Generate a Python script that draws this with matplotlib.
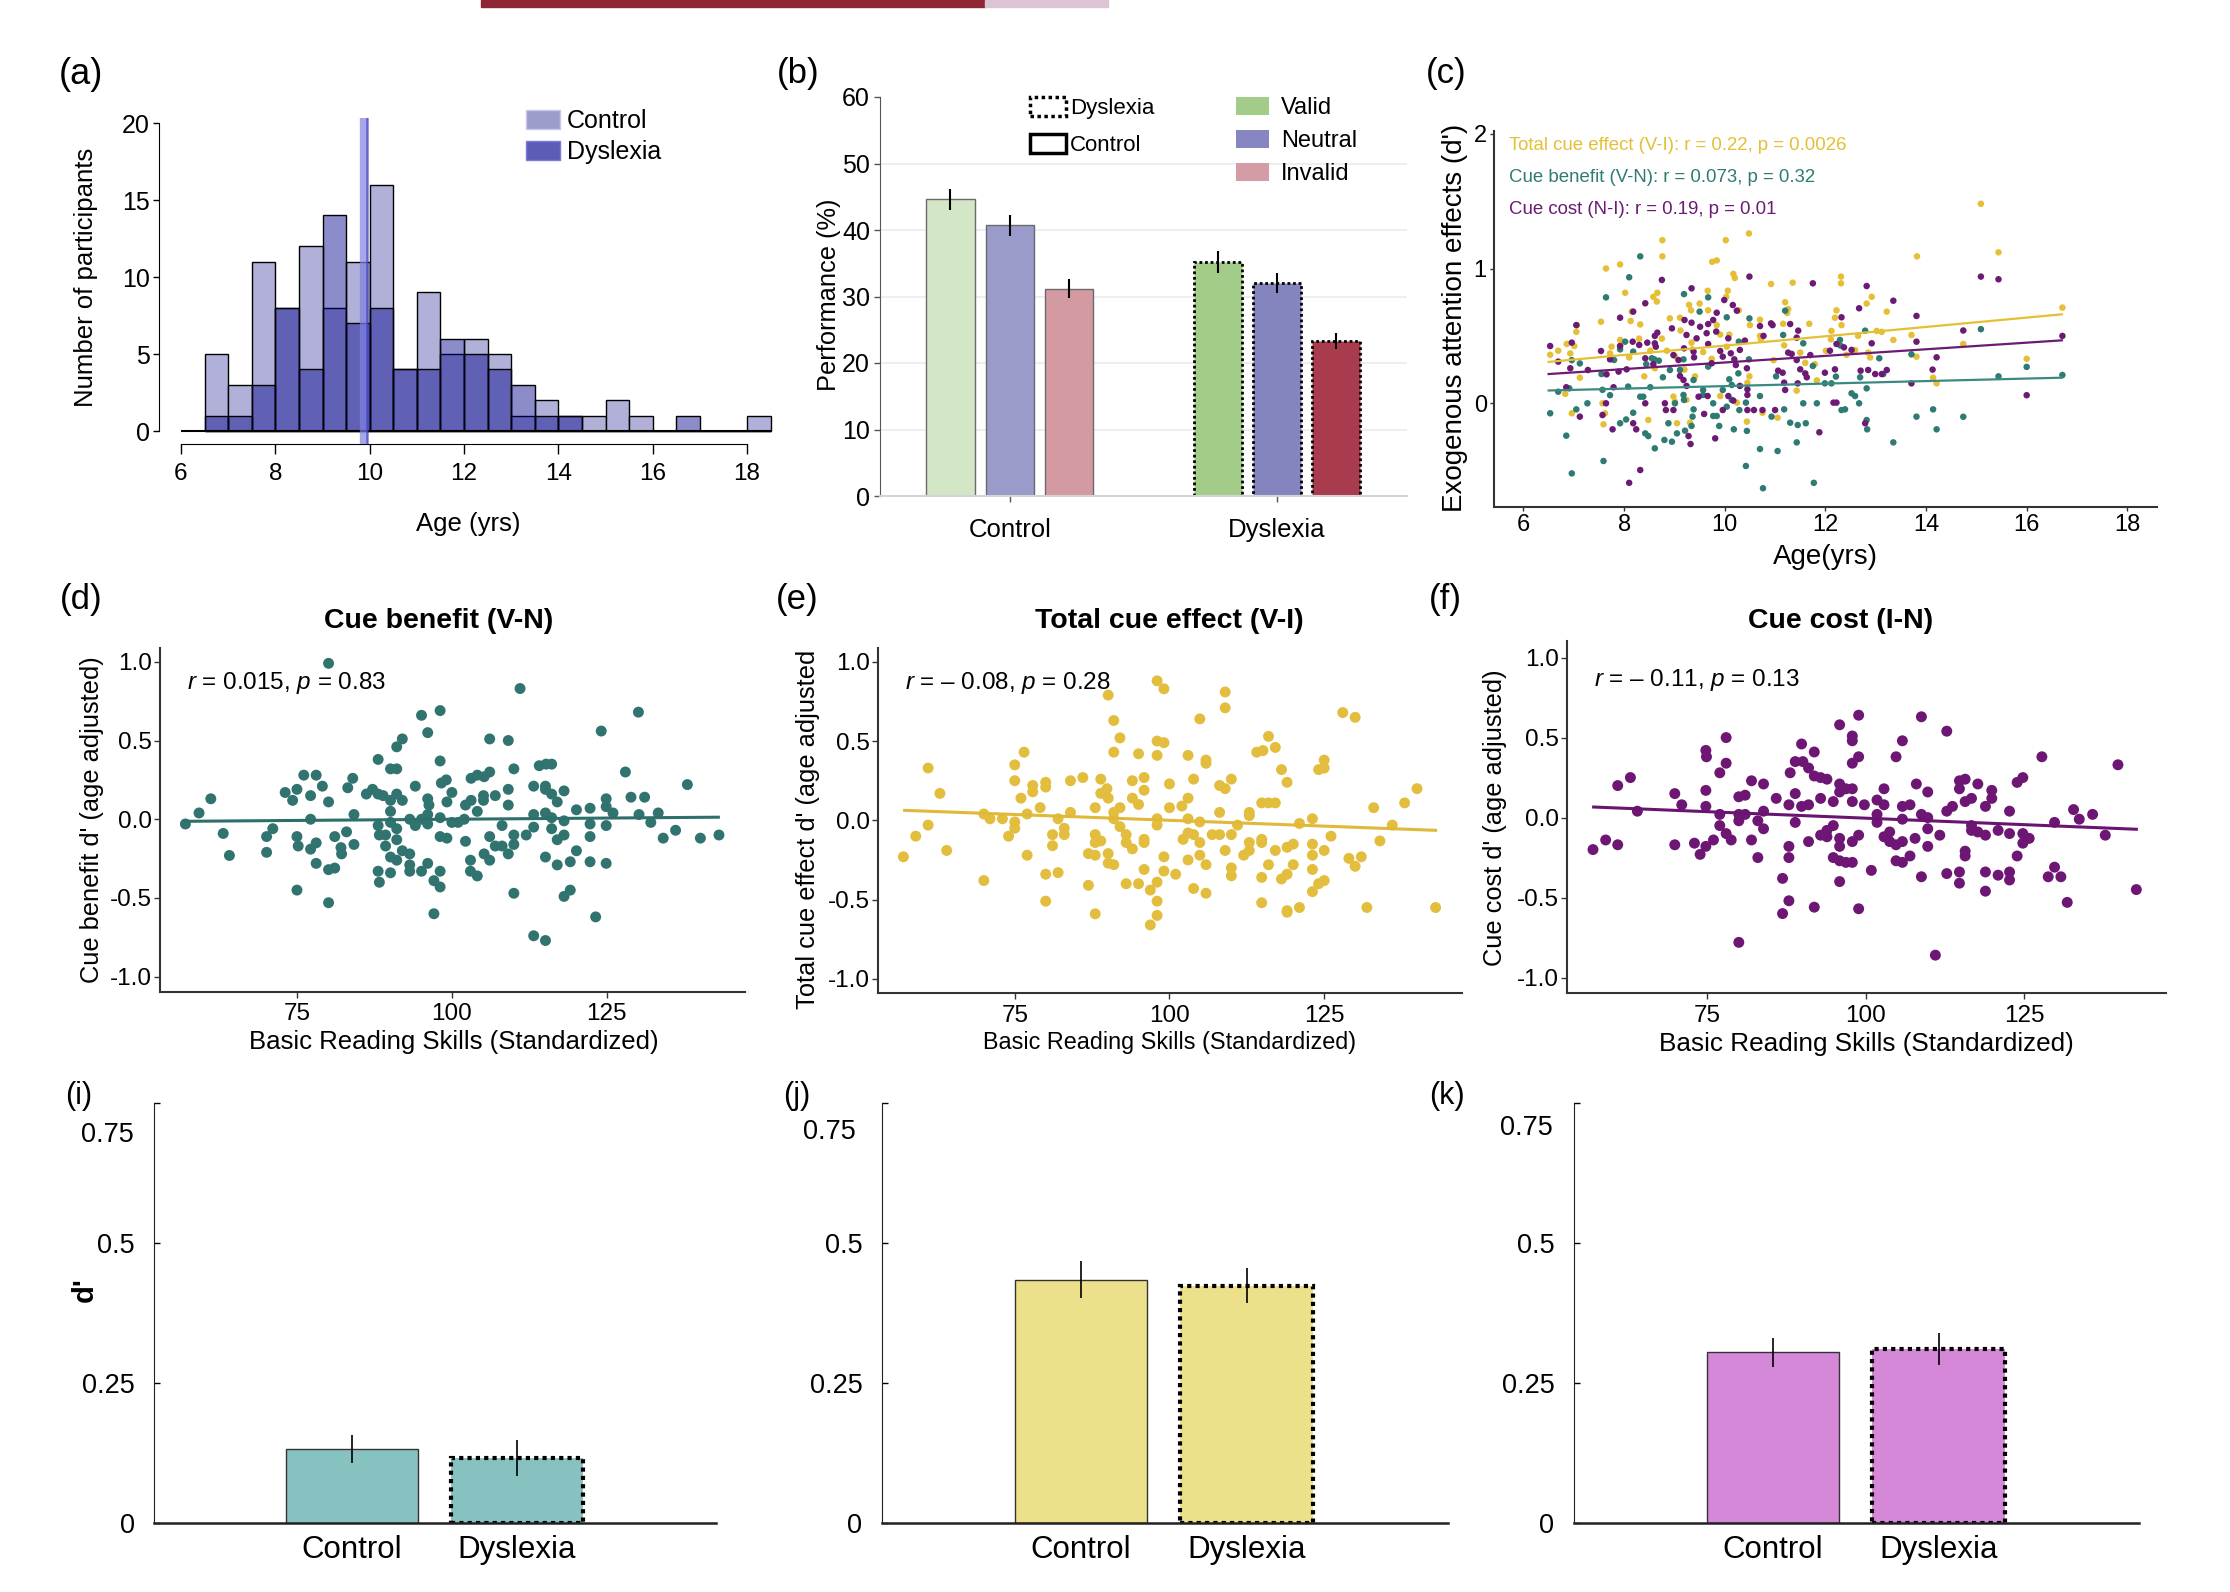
import numpy as np
import matplotlib
matplotlib.use('Agg')
import matplotlib.pyplot as plt
from matplotlib.patches import Patch, Rectangle

# ---------------- DATA ----------------
# (a) age histogram
age_bin_left = [6.5, 7.0, 7.5, 8.0, 8.5, 9.0, 9.5, 10.0, 10.5, 11.0, 11.5, 12.0,
                12.5, 13.0, 13.5, 14.0, 14.5, 15.0, 15.5, 16.0, 16.5, 17.0, 17.5, 18.0]
hist_control = [5, 3, 11, 8, 12, 8, 11, 16, 4, 9, 5, 6, 5, 1, 2, 1, 1, 2, 1, 0, 0, 0, 0, 1]
hist_dyslexia = [1, 1, 3, 8, 4, 14, 7, 8, 4, 4, 6, 5, 4, 3, 1, 1, 0, 0, 0, 0, 1, 0, 0, 0]
mean_age = [9.88, 9.95]
age_ticks = [6, 8, 10, 12, 14, 16, 18]
count_ticks = [0, 5, 10, 15, 20]

# (b) performance
groups = ['Control', 'Dyslexia']
conditions = ['Valid', 'Neutral', 'Invalid']
perf_control = [44.6, 40.7, 31.2]
perf_control_err = [1.6, 1.6, 1.4]
perf_dyslexia = [35.2, 32.0, 23.3]
perf_dyslexia_err = [1.7, 1.5, 1.2]
perf_ticks = [0, 10, 20, 30, 40, 50, 60]

# (c) attention effects vs age
c_total_pts = [(7.64,1.0),(10.17,0.96),(10.2,0.93),(12.31,0.94),(12.31,0.89),(10.92,0.885),(11.35,0.895),
    (8.02,0.82),(8.66,0.82),(8.58,0.79),(8.65,0.755),(9.66,0.835),(10.06,0.835),(10.03,0.79),(12.92,0.79),
    (12.82,0.74),(9.29,0.73),(9.5,0.74),(9.67,0.69),(9.33,0.69),(10.28,0.69),(11.2,0.75),(11.26,0.70),
    (11.24,0.67),(12.22,0.69),(13.22,0.68),(12.19,0.635),(12.32,0.58),(8.91,0.63),(9.11,0.635),(7.54,0.605),
    (8.15,0.68),(8.13,0.61),(8.32,0.585),(7.05,0.53),(7.06,0.58),(10.5,0.58),(10.7,0.62),(11.16,0.59),
    (11.68,0.59),(13.02,0.537),(13.12,0.53),(12.12,0.537),(12.65,0.5),(13.71,0.507),(13.35,0.47),(6.86,0.44),
    (7.01,0.425),(6.93,0.37),(6.53,0.36),(6.69,0.39),(7.12,0.19),(6.83,0.07),(6.96,-0.074),(7.57,0.0),
    (7.62,-0.074),(7.59,-0.156),(7.75,0.42),(7.72,0.37),(7.92,0.47),(7.92,0.425),(8.1,0.34),(8.3,0.48),
    (8.52,0.39),(8.61,0.26),(8.4,0.2),(8.75,0.48),(8.85,0.39),(9.01,0.35),(9.12,0.54),(9.34,0.45),(9.36,0.40),
    (9.2,0.25),(9.41,0.20),(9.57,0.38),(9.74,0.33),(9.84,0.58),(9.91,0.51),(10.09,0.51),(10.04,0.42),
    (9.91,0.054),(10.45,0.153),(10.49,0.2),(10.44,-0.136),(10.24,0.005),(10.75,-0.07),(10.7,0.5),(10.72,0.475),
    (10.97,0.32),(11.05,-0.107),(11.18,0.43),(11.43,0.094),(11.6,0.30),(11.83,0.17),(11.5,0.376),(11.79,0.29),
    (12.01,0.39),(12.11,0.475),(12.42,0.36),(12.59,0.395),(12.85,0.376),(12.89,0.34),(14.14,0.19),(14.21,0.148),
    (13.81,0.346),(8.48,-0.124),(8.98,0.05),(9.01,0.012),(9.24,0.025),(9.31,-0.144),(9.05,-0.148),
    (15.09,1.48),(10.48,1.26),(10.02,1.21),(8.76,1.21),(8.76,1.09),(7.92,1.03),(9.75,1.05),(9.84,1.06),
    (13.82,1.09),(15.44,1.12),(16.71,0.71),(14.74,0.44),(16.0,0.33)]
c_benefit_pts = [(8.32,1.09),(8.1,0.935),(7.64,0.786),(9.19,0.81),(9.67,0.786),(9.5,0.68),(10.04,0.638),
    (10.49,0.63),(11.2,0.687),(6.53,-0.074),(6.85,-0.24),(7.59,-0.428),(7.05,-0.045),(7.27,0.0),(6.69,0.086),
    (6.91,0.111),(7.12,0.296),(6.96,0.32),(7.72,0.06),(7.57,0.1),(7.55,0.217),(7.8,0.321),(7.92,0.40),
    (8.02,0.457),(8.18,0.383),(8.32,0.049),(8.38,0.049),(8.18,-0.07),(8.04,-0.12),(7.92,-0.148),(8.42,-0.223),
    (8.48,-0.243),(8.61,-0.334),(8.8,-0.272),(8.95,-0.285),(8.88,-0.148),(9.05,-0.223),(9.21,-0.203),
    (9.34,-0.168),(9.18,0.062),(9.19,0.025),(9.01,0.0),(8.6,0.326),(8.69,0.316),(8.55,0.334),(8.44,0.29),
    (8.77,0.193),(8.91,0.247),(9.11,0.247),(9.18,0.326),(9.38,0.173),(9.38,-0.045),(9.36,-0.099),(9.57,0.099),
    (9.57,0.062),(9.67,0.272),(9.77,0.0),(9.77,-0.094),(9.84,-0.094),(9.89,-0.168),(9.96,0.099),(10.09,0.178),
    (10.14,0.136),(10.04,-0.025),(10.14,0.025),(10.18,-0.193),(10.27,0.222),(10.28,0.457),(10.29,-0.05),
    (10.42,0.005),(10.48,0.326),(10.44,-0.205),(10.7,0.054),(10.7,-0.339),(10.42,-0.465),(10.93,-0.099),
    (11.05,-0.354),(11.16,0.507),(11.18,-0.045),(11.02,0.2),(11.3,-0.144),(11.45,-0.161),(11.43,-0.29),
    (11.61,-0.148),(11.56,0.0),(11.75,0.277),(11.83,0.0),(11.99,0.148),(12.12,0.148),(12.21,0.198),
    (12.32,-0.05),(12.39,-0.045),(12.52,0.074),(12.59,0.054),(12.67,0.0),(12.69,0.193),(12.82,-0.124),
    (12.83,-0.193),(12.82,0.111),(13.07,0.334),(13.15,0.217),(13.35,-0.29),(13.81,-0.099),(13.71,0.363),
    (14.14,-0.045),(14.21,-0.193),(12.29,0.47),(12.79,0.539),(12.3,0.428),(11.56,0.445),(8.08,0.124),
    (8.52,0.119),(15.09,0.55),(16.0,0.27),(15.44,0.20),(16.71,0.21),(6.96,-0.52),(10.76,-0.63),(11.77,-0.59),
    (14.74,-0.10)]
c_cost_pts = [(8.75,0.915),(9.34,0.853),(10.49,0.94),(11.75,0.89),(12.82,0.87),(13.35,0.761),(8.42,0.742),
    (8.18,0.68),(7.92,0.635),(7.05,0.58),(9.99,0.766),(10.16,0.729),(10.24,0.687),(9.84,0.672),(9.77,0.618),
    (9.67,0.588),(12.67,0.705),(13.81,0.648),(12.32,0.638),(9.2,0.618),(9.34,0.598),(8.95,0.556),(8.66,0.524),
    (8.61,0.5),(9.51,0.568),(9.64,0.52),(9.83,0.532),(10.7,0.573),(10.92,0.593),(11.3,0.588),(11.46,0.539),
    (11.43,0.487),(6.53,0.425),(6.96,0.45),(6.69,0.309),(6.93,0.26),(7.28,0.247),(7.54,0.388),(7.72,0.326),
    (7.92,0.425),(8.17,0.457),(8.3,0.433),(8.46,0.45),(8.61,0.445),(8.63,0.42),(7.65,0.215),(7.89,0.235),
    (8.05,0.252),(8.42,0.334),(8.58,0.29),(8.98,0.358),(9.08,0.321),(9.19,0.408),(9.38,0.383),(9.39,0.341),
    (9.24,0.507),(9.44,0.482),(9.67,0.44),(9.91,0.388),(9.74,0.297),(9.96,0.346),(10.07,0.482),(10.12,0.371),
    (10.19,0.326),(10.22,0.284),(10.3,0.396),(10.44,0.26),(10.4,0.465),(10.77,0.5),(11.06,0.242),(11.26,0.376),
    (11.33,0.366),(11.43,0.321),(11.5,0.252),(11.6,0.222),(11.63,0.193),(11.7,0.358),(11.99,0.227),(12.09,0.39),
    (12.19,0.252),(12.22,0.44),(12.37,0.415),(12.52,0.396),(12.7,0.242),(12.85,0.247),(12.92,0.445),
    (12.99,0.217),(13.12,0.217),(13.22,0.247),(13.81,0.457),(14.21,0.341),(13.71,0.148),(7.79,0.119),
    (6.85,0.119),(7.57,-0.087),(7.12,-0.099),(7.77,-0.193),(7.64,0.0),(8.18,-0.148),(8.24,-0.193),(8.42,0.0),
    (8.81,0.0),(8.83,-0.05),(8.98,-0.05),(9.28,-0.243),(9.32,-0.302),(9.11,0.203),(9.18,0.173),(9.24,0.129),
    (9.48,0.049),(9.59,-0.079),(9.66,0.054),(9.81,-0.26),(9.96,-0.05),(10.07,0.054),(10.17,0.02),(10.3,0.129),
    (10.45,0.104),(10.45,0.062),(10.45,-0.05),(10.58,-0.05),(10.75,-0.05),(11.0,-0.05),(11.18,0.153),
    (11.2,0.099),(11.15,0.227),(11.45,0.148),(11.88,-0.215),(12.16,0.005),(12.22,0.005),(12.79,-0.148),
    (8.32,-0.495),(10.95,0.58),(14.13,0.25),(15.09,0.94),(15.44,0.92),(14.74,0.54),(16.71,0.50),(16.0,0.06),
    (8.1,-0.59)]
c_fit_age = [6.5, 16.7]
c_fit_total = [0.307, 0.66]
c_fit_benefit = [0.095, 0.19]
c_fit_cost = [0.217, 0.467]
c_labels = ['Total cue effect (V-I): r = 0.22, p = 0.0026',
            'Cue benefit (V-N): r = 0.073, p = 0.32',
            'Cue cost (N-I): r = 0.19, p = 0.01']

# (d) cue benefit vs reading
d_pts = [(80.1,0.99),(111.0,0.83),(98.1,0.69),(95.1,0.66),(130.1,0.68),(96.1,0.55),(124.1,0.56),(91.1,0.46),
    (92.0,0.51),(106.1,0.51),(109.1,0.50),(88.1,0.38),(98.1,0.37),(90.1,0.32),(91.1,0.32),(110.0,0.32),
    (114.1,0.34),(115.2,0.35),(116.1,0.35),(128.0,0.30),(76.1,0.28),(78.1,0.28),(84.0,0.26),(73.1,0.17),
    (74.3,0.12),(75.0,0.19),(77.2,0.15),(79.1,0.21),(80.1,0.11),(83.2,0.20),(86.2,0.16),(87.2,0.19),(88.1,0.16),
    (88.9,0.15),(90.1,0.12),(91.1,0.16),(92.0,0.12),(94.1,0.21),(96.1,0.13),(96.3,0.09),(98.3,0.23),(99.1,0.25),
    (100.0,0.17),(99.2,0.11),(102.2,0.09),(103.1,0.12),(103.1,0.26),(104.1,0.28),(105.2,0.27),(106.1,0.30),
    (105.1,0.15),(105.1,0.12),(107.0,0.15),(109.1,0.19),(109.1,0.09),(113.2,0.21),(115.1,0.21),(115.1,0.19),
    (116.1,0.16),(117.0,0.11),(118.1,0.18),(120.1,0.06),(122.3,0.07),(124.9,0.13),(124.9,0.08),(128.9,0.14),
    (131.1,0.14),(138.0,0.22),(61.1,0.13),(59.2,0.04),(57.0,-0.03),(63.1,-0.09),(64.1,-0.23),(70.1,-0.11),
    (71.1,-0.06),(70.1,-0.21),(75.0,-0.11),(75.2,-0.17),(77.2,0.0),(77.2,-0.19),(78.1,-0.15),(78.1,-0.28),
    (75.0,-0.45),(80.1,-0.53),(80.1,-0.32),(81.1,-0.31),(81.1,-0.11),(82.1,-0.18),(82.2,-0.22),(83.0,-0.08),
    (84.2,-0.16),(84.2,0.03),(88.1,-0.04),(88.3,-0.10),(88.1,-0.33),(88.3,-0.40),(89.3,-0.10),(89.3,-0.17),
    (90.1,0.05),(90.1,-0.02),(90.1,-0.24),(91.1,-0.26),(91.1,-0.06),(91.1,-0.13),(90.1,-0.34),(92.0,-0.20),
    (93.2,-0.22),(93.2,-0.29),(93.2,-0.33),(93.2,0.0),(94.1,-0.04),(95.1,-0.33),(95.1,0.0),(96.1,-0.03),
    (96.1,0.03),(96.1,-0.28),(97.1,-0.39),(97.1,-0.60),(98.1,-0.33),(98.1,-0.43),(98.1,0.01),(98.1,-0.11),
    (99.2,-0.12),(100.0,-0.02),(101.0,-0.02),(102.0,0.0),(102.2,-0.14),(103.0,-0.26),(103.0,-0.33),
    (104.1,-0.36),(104.1,0.05),(105.2,-0.22),(106.1,-0.26),(106.1,-0.11),(107.0,-0.17),(108.1,-0.17),
    (108.1,-0.04),(109.1,-0.22),(110.0,-0.10),(110.0,-0.16),(110.0,-0.47),(112.0,-0.10),(113.2,0.03),
    (113.2,-0.05),(113.2,-0.74),(115.1,-0.77),(115.1,-0.24),(115.1,0.04),(116.1,0.01),(116.1,-0.06),
    (117.0,-0.13),(118.1,-0.01),(118.1,-0.10),(117.0,-0.29),(118.1,-0.49),(119.1,-0.45),(119.1,-0.27),
    (120.1,-0.20),(122.3,-0.03),(122.3,-0.11),(122.3,-0.27),(123.2,-0.62),(124.9,-0.28),(124.9,-0.04),
    (126.0,0.04),(130.2,0.03),(132.1,-0.02),(133.3,0.04),(134.1,-0.12),(136.1,-0.07),(140.1,-0.12),(143.1,-0.10)]
d_fit_x = [57.0, 143.0]
d_fit_y = [-0.013, 0.013]

# (e) total cue effect vs reading
e_pts = [(98.0,0.88),(99.1,0.83),(90.1,0.79),(109.0,0.81),(109.0,0.71),(91.0,0.63),(104.9,0.64),(128.0,0.68),
    (130.0,0.65),(92.0,0.52),(98.0,0.50),(99.1,0.49),(98.0,0.41),(91.0,0.43),(95.0,0.42),(103.0,0.41),
    (105.9,0.38),(105.9,0.36),(116.0,0.53),(114.1,0.43),(115.1,0.44),(117.1,0.46),(118.1,0.32),(124.1,0.32),
    (125.0,0.38),(125.0,0.33),(119.0,0.24),(110.0,0.26),(76.5,0.43),(75.0,0.35),(75.0,0.25),(61.0,0.33),
    (62.9,0.17),(61.0,-0.03),(59.0,-0.10),(57.0,-0.23),(64.0,-0.19),(70.0,0.04),(71.0,0.01),(73.0,0.01),
    (70.0,-0.38),(76.0,0.14),(77.0,0.04),(77.9,0.22),(77.9,0.18),(79.1,0.08),(80.0,0.24),(80.0,0.21),
    (75.0,-0.01),(75.0,-0.05),(74.0,-0.10),(77.0,-0.22),(81.1,-0.09),(81.1,-0.16),(82.0,0.01),(80.0,-0.34),
    (82.0,-0.33),(80.0,-0.51),(83.0,-0.05),(83.0,-0.09),(84.0,0.25),(84.0,0.05),(86.0,0.27),(86.9,-0.21),
    (86.9,-0.41),(88.0,0.08),(88.0,-0.09),(88.0,-0.14),(88.0,-0.22),(88.9,-0.13),(88.0,-0.59),(88.9,0.26),
    (88.9,0.17),(89.9,0.20),(90.1,0.14),(90.1,-0.21),(90.1,-0.27),(91.0,-0.28),(91.0,0.05),(91.0,0.01),
    (92.0,0.08),(92.0,-0.04),(93.0,-0.09),(93.0,-0.14),(94.0,-0.18),(94.0,0.25),(94.0,0.14),(95.0,0.10),
    (93.0,-0.40),(95.0,-0.40),(95.9,0.27),(95.9,0.19),(95.9,-0.12),(95.9,-0.14),(95.9,-0.31),(96.9,-0.44),
    (96.9,-0.66),(98.0,-0.39),(98.0,-0.51),(98.0,-0.60),(98.0,0.01),(98.0,-0.03),(99.1,-0.23),(99.1,-0.32),
    (100.0,0.23),(100.0,0.08),(101.0,-0.34),(102.0,0.09),(102.2,-0.12),(103.0,0.14),(103.0,0.01),(103.0,-0.08),
    (103.9,-0.09),(103.0,-0.25),(103.9,0.26),(104.9,-0.01),(104.9,-0.14),(104.9,-0.22),(103.9,-0.43),
    (105.9,-0.28),(105.9,-0.46),(106.9,-0.09),(108.1,-0.09),(108.1,0.05),(108.1,0.22),(109.0,0.20),
    (109.0,-0.19),(110.0,-0.09),(110.0,-0.30),(110.0,-0.35),(111.0,-0.03),(112.0,-0.22),(112.9,-0.19),
    (112.9,0.05),(112.9,0.03),(112.9,-0.14),(114.9,0.11),(116.0,0.11),(117.1,0.11),(114.9,-0.12),(114.9,-0.14),
    (114.9,-0.36),(114.9,-0.52),(116.0,-0.28),(117.1,-0.19),(118.1,-0.37),(119.0,-0.34),(119.0,-0.17),
    (120.0,-0.15),(120.0,-0.28),(119.0,-0.57),(119.0,-0.58),(121.0,-0.55),(121.0,-0.02),(123.1,0.01),
    (123.1,-0.15),(123.1,-0.22),(123.1,-0.31),(123.1,-0.45),(124.1,-0.40),(125.0,-0.38),(125.0,-0.19),
    (126.1,-0.10),(129.0,-0.24),(130.0,-0.29),(131.0,-0.23),(131.9,-0.55),(133.0,0.08),(134.0,-0.13),
    (136.0,-0.03),(138.0,0.11),(140.0,0.20),(143.0,-0.55)]
e_fit_x = [57.2, 143.0]
e_fit_y = [0.063, -0.063]

# (f) cue cost vs reading
f_pts = [(98.9,0.64),(108.8,0.63),(95.9,0.58),(112.8,0.54),(97.9,0.51),(97.9,0.48),(105.8,0.48),(78.0,0.50),
    (74.8,0.42),(74.9,0.38),(89.9,0.46),(91.9,0.41),(127.8,0.38),(139.8,0.33),(78.0,0.34),(77.0,0.28),
    (88.9,0.35),(90.1,0.35),(88.1,0.28),(91.0,0.31),(91.9,0.26),(92.9,0.25),(93.9,0.24),(104.8,0.38),
    (98.9,0.38),(97.9,0.34),(62.9,0.25),(60.9,0.20),(82.0,0.23),(83.9,0.21),(74.8,0.17),(69.9,0.15),
    (71.0,0.08),(64.0,0.04),(80.0,0.13),(81.0,0.14),(85.9,0.12),(87.9,0.08),(88.9,0.15),(89.9,0.07),
    (91.0,0.08),(92.9,0.12),(94.9,0.10),(95.9,0.21),(95.9,0.16),(96.9,0.18),(97.9,0.18),(97.9,0.10),
    (99.8,0.08),(101.8,0.11),(102.9,0.18),(102.9,0.08),(105.8,0.07),(107.0,0.08),(108.0,0.21),(109.8,0.16),
    (108.8,0.02),(109.8,0.0),(112.8,0.04),(113.7,0.07),(114.8,0.23),(115.7,0.24),(114.8,0.18),(115.7,0.10),
    (116.7,0.12),(117.7,0.21),(119.9,0.17),(119.9,0.12),(118.9,0.07),(122.7,0.04),(123.9,0.22),(124.8,0.25),
    (132.8,0.05),(133.7,-0.01),(135.8,0.02),(129.8,-0.03),(77.0,0.02),(74.8,0.07),(77.0,-0.05),(78.0,-0.10),
    (78.8,-0.14),(80.0,0.02),(80.0,-0.02),(81.0,0.02),(83.0,-0.02),(83.9,-0.07),(83.9,0.04),(82.0,-0.14),
    (83.0,-0.25),(76.0,-0.14),(74.8,-0.18),(73.9,-0.23),(73.0,-0.16),(69.9,-0.17),(57.0,-0.20),(59.0,-0.14),
    (60.9,-0.17),(88.9,-0.03),(87.9,-0.18),(87.9,-0.25),(86.9,-0.38),(87.9,-0.52),(86.9,-0.60),(80.0,-0.78),
    (91.0,-0.15),(91.9,-0.56),(92.9,-0.11),(93.9,-0.12),(93.9,-0.08),(94.9,-0.05),(94.9,-0.25),(95.9,-0.27),
    (95.9,-0.13),(95.9,-0.18),(96.9,-0.28),(97.9,-0.28),(97.9,-0.15),(98.9,-0.11),(95.9,-0.40),(98.9,-0.57),
    (100.9,-0.33),(101.8,-0.03),(101.8,0.02),(102.9,-0.12),(103.8,-0.09),(103.8,-0.15),(104.8,-0.17),
    (104.8,-0.27),(105.8,-0.01),(105.8,-0.15),(105.8,-0.28),(107.0,-0.24),(107.8,-0.13),(108.8,-0.37),
    (109.8,-0.07),(109.8,-0.18),(111.7,-0.11),(111.0,-0.86),(112.8,-0.35),(114.8,-0.34),(114.8,-0.41),
    (115.7,-0.21),(115.7,-0.24),(116.7,-0.05),(116.7,-0.08),(117.7,-0.09),(118.9,-0.11),(118.9,-0.34),
    (118.9,-0.46),(120.9,-0.08),(120.9,-0.36),(122.7,-0.10),(122.7,-0.34),(122.7,-0.39),(123.9,-0.24),
    (124.8,-0.10),(124.8,-0.16),(125.8,-0.13),(128.8,-0.37),(129.8,-0.31),(130.8,-0.37),(131.8,-0.53),
    (137.8,-0.11),(142.7,-0.45)]
f_fit_x = [57.1, 142.7]
f_fit_y = [0.066, -0.073]
reading_ticks = [75, 100, 125]
dprime_ticks = [-1.0, -0.5, 0.0, 0.5, 1.0]
dprime_ticklabels = ['-1.0', '-0.5', '0.0', '0.5', '1.0']

# (i)(j)(k) group means
dp_control = [0.131, 0.4345, 0.305]
dp_control_err = [0.025, 0.033, 0.026]
dp_dyslexia = [0.116, 0.424, 0.311]
dp_dyslexia_err = [0.032, 0.032, 0.029]
bar_ticks = [0, 0.25, 0.5, 0.75]

# ---------------- FIGURE ----------------
W, H = 2230, 1592
plt.rcParams['font.family'] = ['Liberation Sans', 'DejaVu Sans']
plt.rcParams['mathtext.fontset'] = 'custom'
plt.rcParams['mathtext.rm'] = 'Liberation Sans'
plt.rcParams['mathtext.it'] = 'Liberation Sans:italic'

fig = plt.figure(figsize=(W / 100, H / 100), dpi=100)


def axpx(x0, y0, x1, y1):
    return fig.add_axes([x0 / W, 1 - y1 / H, (x1 - x0) / W, (y1 - y0) / H])


def tpx(x, y, s, **kw):
    return fig.text(x / W, 1 - y / H, s, **kw)


DOT = (0, (1, 1))

# header decoration (journal banner strip)
fig.patches.append(Rectangle((481 / W, 1 - 7 / H), (985 - 481) / W, 7 / H,
                             transform=fig.transFigure, color='#8e2533', zorder=0))
fig.patches.append(Rectangle((985 / W, 1 - 7 / H), (1108 - 985) / W, 7 / H,
                             transform=fig.transFigure, color='#dcc4d4', zorder=0))

# ---- (a) ----
ax = axpx(159, 118.4, 773, 443.5)
ax.bar(age_bin_left, hist_control, width=0.5, align='edge', color='#b0b0d8',
       edgecolor='black', lw=1, zorder=2)
ax.bar(age_bin_left, hist_dyslexia, width=0.5, align='edge', color=(0, 0, 0.55, 0.45),
       edgecolor='black', lw=1, zorder=3)
ax.hlines(0, age_ticks[0], age_bin_left[-1] + 0.5, color='black', lw=1.5, zorder=4)
ax.axvline(mean_age[0], color='#8080e0', alpha=0.7, lw=6, zorder=5)
ax.axvline(mean_age[1], color='#2a2ab8', alpha=0.55, lw=1.8, zorder=6)
ax.set_xlim(5.534, 18.55)
ax.set_ylim(-0.81, 20.3)
for s in ['top', 'right']:
    ax.spines[s].set_visible(False)
ax.spines['left'].set_bounds(0, 20)
ax.spines['bottom'].set_bounds(6, 18)
ax.set_xticks(age_ticks)
ax.set_yticks(count_ticks)
ax.tick_params(axis='x', direction='out', length=7, width=1, labelsize=17.5, pad=7)
ax.tick_params(axis='y', direction='out', length=4.5, width=1, labelsize=18, pad=2)
tpx(80.5, 75, '(a)', fontsize=26, ha='center', va='center')
tpx(86, 277, 'Number of participants', fontsize=18.5, rotation=90, ha='center', va='center')
tpx(468, 524, 'Age (yrs)', fontsize=18.5, ha='center', va='center')
fig.legend(handles=[Patch(facecolor='#9d9dcd', edgecolor='#c8c8ee', lw=1, label='Control'),
                    Patch(facecolor='#5c5cb8', edgecolor='#7a7ad8', lw=1, label='Dyslexia')],
           loc='upper left', bbox_to_anchor=(526 / W, 1 - 109 / H), frameon=False,
           fontsize=18, handlelength=1.35, handleheight=0.8, handletextpad=0.3,
           labelspacing=0.3, borderpad=0, borderaxespad=0)

# ---- (b) ----
ax = axpx(879.6, 97, 1407, 496)
ctrl_cols = ['#d3e6c5', '#9b9bcb', '#d49aa2']
dys_cols = ['#a2cc87', '#8484be', '#a83b4d']
offs = [-0.2225, 0.0, 0.2225]
for k in range(3):
    ax.bar(0 + offs[k], perf_control[k], width=0.18, color=ctrl_cols[k], edgecolor='#6a6a6a',
           lw=1, zorder=2)
    ax.errorbar(0 + offs[k], perf_control[k], yerr=perf_control_err[k], fmt='none',
                ecolor='black', elinewidth=1.5, capsize=0, zorder=3)
    ax.bar(1 + offs[k], perf_dyslexia[k], width=0.18, color=dys_cols[k], edgecolor='black',
           lw=2, linestyle=DOT, zorder=2)
    ax.errorbar(1 + offs[k], perf_dyslexia[k], yerr=perf_dyslexia_err[k], fmt='none',
                ecolor='black', elinewidth=1.5, capsize=0, zorder=3)
ax.hlines(perf_ticks[1:-1], -0.488, 1.487, color='#ebebeb', lw=1.2, zorder=0)
ax.set_xlim(-0.488, 1.487)
ax.set_ylim(0, 60)
for s in ['top', 'right']:
    ax.spines[s].set_visible(False)
ax.spines['left'].set_color('#555555')
ax.spines['bottom'].set_color('#d4d4d4')
ax.spines['bottom'].set_linewidth(1.5)
ax.set_yticks(perf_ticks)
ax.set_xticks([0, 1])
ax.set_xticklabels(groups)
ax.tick_params(axis='y', direction='out', length=4, width=1, labelsize=18, pad=3, color='#555555')
ax.tick_params(axis='x', direction='out', length=4, width=1, labelsize=18.5, pad=12, color='#555555')
tpx(798, 74, '(b)', fontsize=25, ha='center', va='center')
tpx(829, 295, 'Performance (%)', fontsize=18.3, rotation=90, ha='center', va='center')
fig.legend(handles=[Patch(facecolor='white', edgecolor='black', lw=2.5, linestyle=DOT, label='Dyslexia'),
                    Patch(facecolor='white', edgecolor='black', lw=2.5, label='Control')],
           loc='upper left', bbox_to_anchor=(1030 / W, 1 - 97 / H), frameon=False,
           fontsize=16, handlelength=1.6, handleheight=0.95, handletextpad=0.2,
           labelspacing=0.65, borderpad=0, borderaxespad=0)
fig.legend(handles=[Patch(facecolor='#a3cc8a', label='Valid'),
                    Patch(facecolor='#8686c2', label='Neutral'),
                    Patch(facecolor='#d49ca4', label='Invalid')],
           loc='upper left', bbox_to_anchor=(1236 / W, 1 - 97 / H), frameon=False,
           fontsize=17, handlelength=1.4, handleheight=0.8, handletextpad=0.5,
           labelspacing=0.45, borderpad=0, borderaxespad=0)

# ---- (c) ----
ax = axpx(1493.8, 131, 2157, 506.7)
c_yel, c_teal, c_pur = '#e5bf35', '#2f7b73', '#6c1a74'
for pts, col in [(c_total_pts, c_yel), (c_benefit_pts, c_teal), (c_cost_pts, c_pur)]:
    arr = np.array(pts)
    ax.scatter(arr[:, 0], arr[:, 1], s=22, color=col, edgecolors='none', zorder=3)
ax.plot(c_fit_age, c_fit_total, color=c_yel, lw=1.6, zorder=4)
ax.plot(c_fit_age, c_fit_cost, color=c_pur, lw=1.6, zorder=4)
ax.plot(c_fit_age, c_fit_benefit, color='#3a8a82', lw=1.6, zorder=4)
ax.set_xlim(5.41, 18.59)
ax.set_ylim(-0.767, 2.02)
for s in ['top', 'right']:
    ax.spines[s].set_visible(False)
for s in ['left', 'bottom']:
    ax.spines[s].set_color('#333333')
    ax.spines[s].set_linewidth(1.5)
ax.set_xticks(age_ticks)
ax.set_yticks([0, 1, 2])
ax.tick_params(axis='both', direction='out', length=3, width=1, labelsize=17, pad=2, color='#333333')
for k, (lab, col) in enumerate(zip(c_labels, [c_yel, c_teal, c_pur])):
    tpx(1509, 146 + 32 * k, lab, fontsize=13.4, color=col, ha='left', va='center')
tpx(1446, 74, '(c)', fontsize=25, ha='center', va='center')
tpx(1455.5, 318, "Exogenous attention effects (d')", fontsize=20, rotation=90, ha='center', va='center')
tpx(1825, 557, 'Age(yrs)', fontsize=20, ha='center', va='center')


# ---- (d)(e)(f) ----
def scatter_panel(box, ylim, pts, col, linecol, fx, fy, title, tcx, rtxt, rx, ry, letter, lx,
                  ylab, ylx, yly, ylva, xlx, xly, xlsize):
    ax = axpx(*box)
    arr = np.array(pts)
    ax.scatter(arr[:, 0], arr[:, 1], s=62, color=col, edgecolors='none', zorder=3)
    ax.plot(fx, fy, color=linecol, lw=2.2, zorder=4)
    ax.set_xlim(52.9, 147.3)
    ax.set_ylim(*ylim)
    for s in ['top', 'right']:
        ax.spines[s].set_visible(False)
    for s in ['left', 'bottom']:
        ax.spines[s].set_color('#333333')
        ax.spines[s].set_linewidth(1.5)
    ax.set_xticks(reading_ticks)
    ax.set_yticks(dprime_ticks)
    ax.set_yticklabels(dprime_ticklabels)
    ax.tick_params(axis='x', direction='out', length=4, width=1, labelsize=17.5, pad=4,
                   color='#333333')
    ax.tick_params(axis='y', direction='out', length=4, width=1, labelsize=17.5, pad=1.5,
                   color='#333333')
    tpx(tcx, 621, title, fontsize=20.5, fontweight='bold', ha='center', va='center')
    tpx(rx, ry, rtxt, fontsize=17.5, ha='left', va='center')
    tpx(lx, 599, letter, fontsize=25, ha='center', va='center')
    tpx(ylx, yly, ylab, fontsize=18.3, rotation=90, ha='center', va=ylva)
    tpx(xlx, xly, 'Basic Reading Skills (Standardized)', fontsize=xlsize, ha='center', va='center')


scatter_panel((160, 647.9, 745, 991.7), (-1.095, 1.088), d_pts, '#31736f', '#2d6f6b', d_fit_x, d_fit_y,
              'Cue benefit (V-N)', 438.6, '$r$ = 0.015, $p$ = 0.83', 186.6, 683.5, '(d)', 80.7,
              "Cue benefit d' (age adjusted)", 92, 819.5, 'center', 454, 1041.5, 18.5)
scatter_panel((878, 647.9, 1462.2, 993.4), (-1.092, 1.088), e_pts, '#e3bd3d', '#e0b83a', e_fit_x, e_fit_y,
              'Total cue effect (V-I)', 1169, '$r$ = \u2013 0.08, $p$ = 0.28', 904.8, 683.5, '(e)', 797,
              "Total cue effect d' (age adjusted", 808, 1009, 'bottom', 1170, 1042, 16.8)
scatter_panel((1567, 641.2, 2165.5, 993.4), (-1.099, 1.1025), f_pts, '#6d1674', '#6a1472', f_fit_x, f_fit_y,
              'Cue cost (I-N)', 1840.5, '$r$ = \u2013 0.11, $p$ = 0.13', 1593.7, 680, '(f)', 1445,
              "Cue cost d' (age adjusted)", 1495.4, 817.5, 'center', 1866, 1044, 18.8)

# ---- (i)(j)(k) ----
bar_cols = ['#88c2c0', '#ede08a', '#d588d8']
boxes = [(154.1, 1103.3, 716.4, 1522.7), (881.8, 1103.3, 1447.6, 1522.7), (1573.9, 1103.3, 2139.2, 1522.7)]
letters = [('(i)', 79), ('(j)', 797), ('(k)', 1447)]
lab075 = [(134, 1135), (856, 1132), (1553, 1128)]
for k in range(3):
    ax = axpx(*boxes[k])
    ax.bar(1, dp_control[k], width=0.8, color=bar_cols[k], edgecolor='#333333', lw=1, zorder=2)
    ax.bar(2, dp_dyslexia[k], width=0.8, color=bar_cols[k], edgecolor='black', lw=3,
           linestyle=DOT, zorder=2)
    ax.errorbar([1, 2], [dp_control[k], dp_dyslexia[k]], yerr=[dp_control_err[k], dp_dyslexia_err[k]],
                fmt='none', ecolor='black', elinewidth=1.2, capsize=0, zorder=3)
    ax.set_xlim(-0.2, 3.21)
    ax.set_ylim(0, 0.75)
    for s in ['top', 'right']:
        ax.spines[s].set_visible(False)
    ax.spines['left'].set_color('#222222')
    ax.spines['bottom'].set_color('#222222')
    ax.spines['bottom'].set_linewidth(1.8)
    ax.set_xticks([1, 2])
    ax.set_xticklabels(groups)
    ax.set_yticks(bar_ticks)
    ax.set_yticklabels(['0', '0.25', '0.5', ''])
    ax.tick_params(axis='y', direction='in', length=4, width=1, labelsize=19.5, pad=14)
    ax.tick_params(axis='x', direction='in', length=4, width=0.8, labelsize=22.5, pad=9, color='#888888')
    tpx(lab075[k][0], lab075[k][1], '0.75', fontsize=19.5, ha='right', va='center')
    tpx(letters[k][1], 1096, letters[k][0], fontsize=22, ha='center', va='center')
tpx(85, 1290, "d'", fontsize=21, fontweight='bold', rotation=90, ha='center', va='center')

fig.savefig('out.png', dpi=100, facecolor='white')
